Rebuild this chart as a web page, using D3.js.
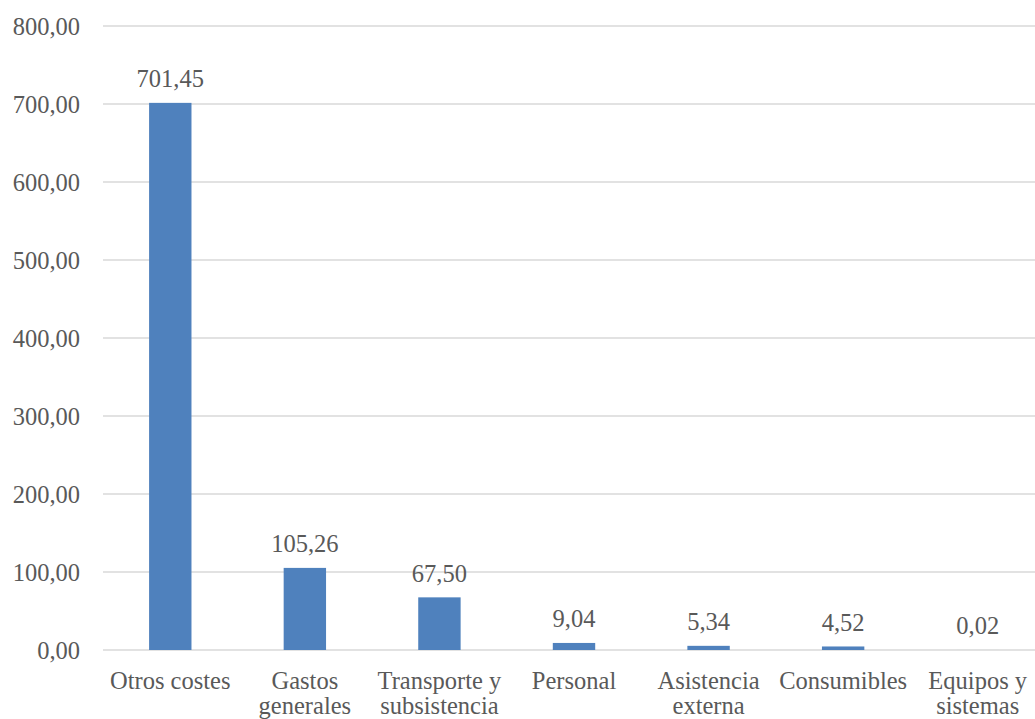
<!DOCTYPE html>
<html>
<head>
<meta charset="utf-8">
<script src="https://cdn.jsdelivr.net/npm/d3@7/dist/d3.min.js"></script>
<style>
	html, body { margin: 0; padding: 0; background: #fff; }
	svg { display: block; }
	text { font-family: "Liberation Serif", serif; fill: #595959; }
</style>
</head>
<body>
<script>
const categories = [
	"Otros costes",
	"Gastos generales",
	"Transporte y subsistencia",
	"Personal",
	"Asistencia externa",
	"Consumibles",
	"Equipos y sistemas"
];
const values = [701.45, 105.26, 67.5, 9.04, 5.34, 4.52, 0.02];
const yTicks = [0, 100, 200, 300, 400, 500, 600, 700, 800];

// labels broken the way the picture shows them
const labelLines = {
	"Gastos generales": ["Gastos", "generales"],
	"Transporte y subsistencia": ["Transporte y", "subsistencia"],
	"Asistencia externa": ["Asistencia", "externa"],
	"Equipos y sistemas": ["Equipos y", "sistemas"]
};

const width = 1035;
const height = 719;
const fontSize = 24.5;

const fmt = (v) => d3.format(".2f")(v).replace(".", ",");

const svg = d3
	.select("body")
	.append("svg")
	.attr("width", width)
	.attr("height", height);

const x = d3
	.scaleBand()
	.domain(categories)
	.range([103, 1045])
	.paddingInner(0.685)
	.paddingOuter(0.3425);

const y = d3.scaleLinear().domain([0, 800]).range([650, 26]);

// gridlines
svg.append("g")
	.selectAll("line")
	.data(yTicks)
	.enter()
	.append("line")
	.attr("x1", 103)
	.attr("x2", width)
	.attr("y1", (d) => y(d))
	.attr("y2", (d) => y(d))
	.attr("stroke", "#d9d9d9")
	.attr("stroke-width", 1.3);

// y axis labels
const yAxis = svg
	.append("g")
	.attr("transform", "translate(80,0)")
	.call(d3.axisLeft(y).tickValues(yTicks).tickFormat(fmt).tickSize(0).tickPadding(0));
yAxis.select(".domain").remove();
yAxis.selectAll("text")
	.attr("font-family", "Liberation Serif")
	.attr("font-size", fontSize)
	.attr("fill", "#595959")
	.attr("dy", "0.33em");

// bars
svg.append("g")
	.selectAll("rect")
	.data(values)
	.enter()
	.append("rect")
	.attr("x", (d, i) => x(categories[i]))
	.attr("width", x.bandwidth())
	.attr("y", (d) => y(d))
	.attr("height", (d) => y(0) - y(d))
	.attr("fill", "#4f81bd");

// value labels
svg.append("g")
	.selectAll("text")
	.data(values)
	.enter()
	.append("text")
	.attr("x", (d, i) => x(categories[i]) + x.bandwidth() / 2)
	.attr("y", (d) => y(d) - 15.5)
	.attr("text-anchor", "middle")
	.attr("font-size", fontSize)
	.text(fmt);

// category labels
const cat = svg
	.append("g")
	.selectAll("text")
	.data(categories)
	.enter()
	.append("text")
	.attr("text-anchor", "middle")
	.attr("font-size", fontSize)
	.attr("x", (d) => x(d) + x.bandwidth() / 2)
	.attr("y", 689);

cat.selectAll("tspan")
	.data((d) => labelLines[d] || [d])
	.enter()
	.append("tspan")
	.attr("x", function () {
		return this.parentNode.getAttribute("x");
	})
	.attr("dy", (d, i) => (i === 0 ? 0 : 25))
	.text((d) => d);
</script>
</body>
</html>
